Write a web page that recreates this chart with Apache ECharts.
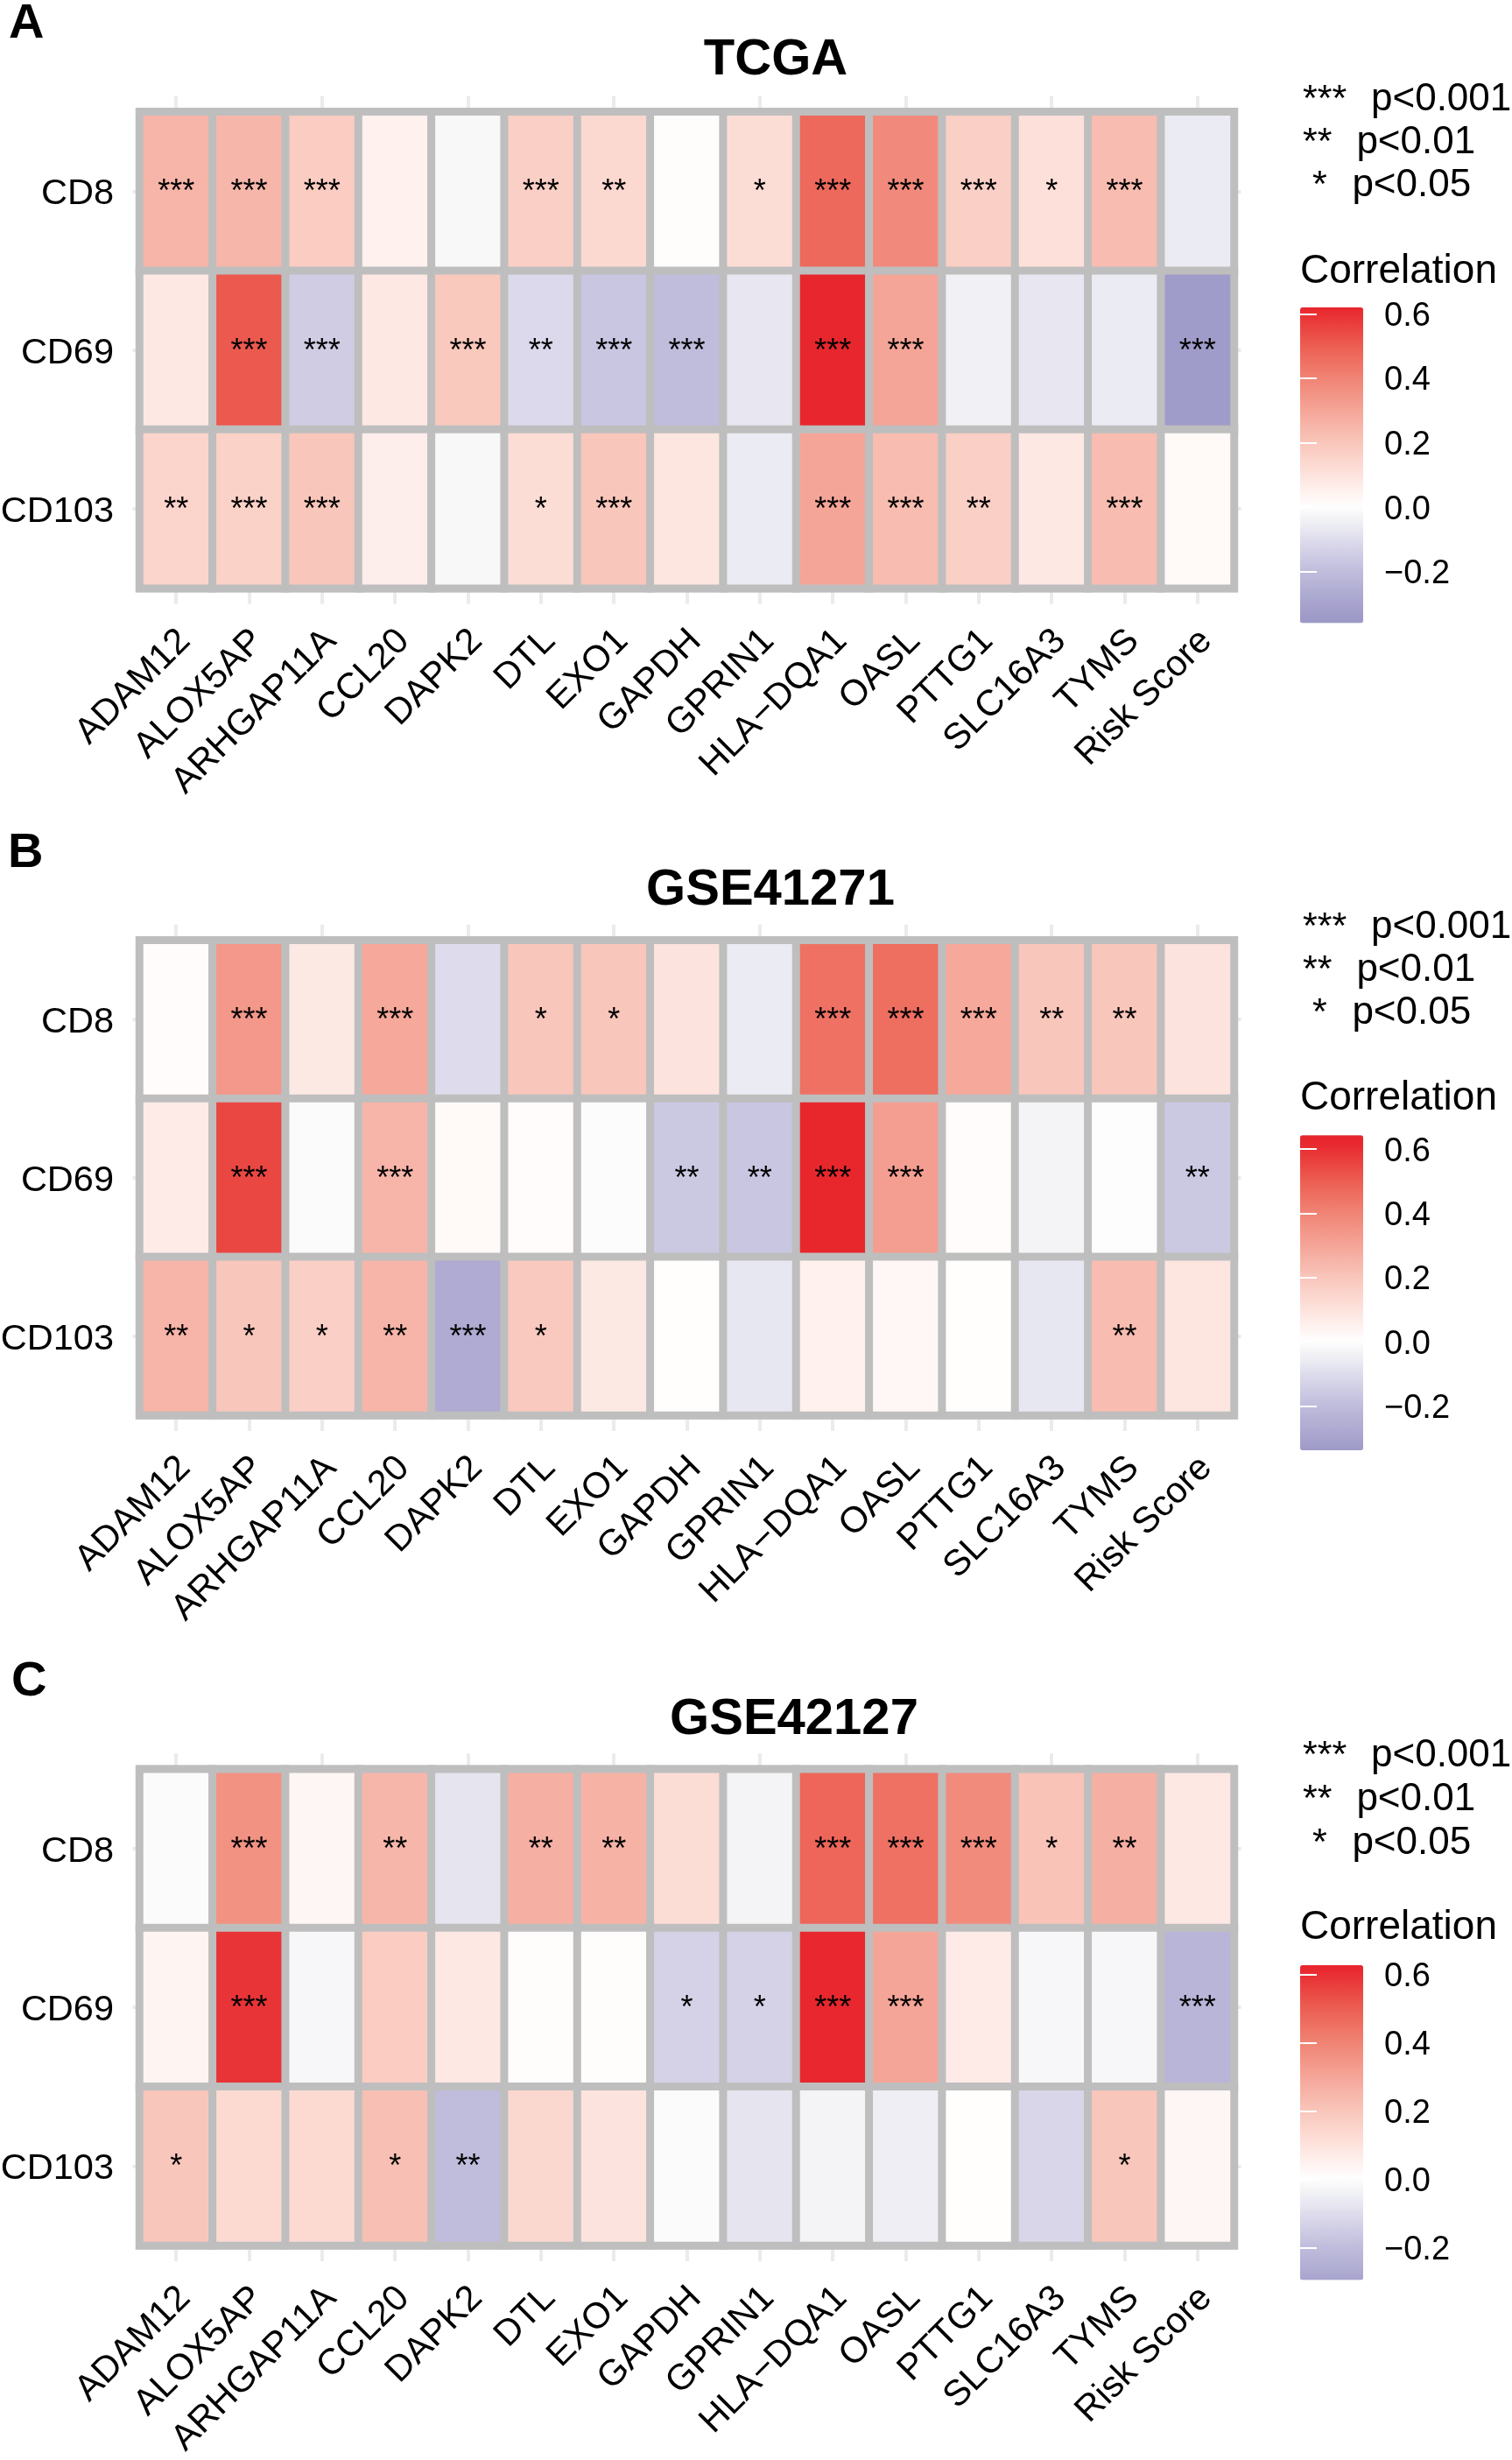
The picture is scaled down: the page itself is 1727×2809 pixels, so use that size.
<!DOCTYPE html>
<html>
<head>
<meta charset="utf-8">
<style>html,body{margin:0;padding:0;background:#fff}#c{width:1727px;height:2809px}</style>
<script src="https://cdn.jsdelivr.net/npm/echarts@6/dist/echarts.min.js"></script>
</head>
<body>
<div id="c"></div>
<script>
var categories = ['ADAM12','ALOX5AP','ARHGAP11A','CCL20','DAPK2','DTL','EXO1','GAPDH','GPRIN1','HLA\u2212DQA1','OASL','PTTG1','SLC16A3','TYMS','Risk Score'];
var rows = ['CD8','CD69','CD103'];

var tcgaValues = [
  [0.255,0.25,0.18,0.05,-0.02,0.17,0.14,0.005,0.12,0.47,0.38,0.17,0.11,0.23,-0.06],
  [0.08,0.51,-0.15,0.08,0.19,-0.11,-0.17,-0.2,-0.07,0.62,0.3,-0.04,-0.07,-0.06,-0.33],
  [0.15,0.16,0.2,0.06,-0.02,0.12,0.2,0.09,-0.06,0.3,0.23,0.17,0.08,0.23,0.02]
];
var tcgaStars = [
  [3,3,3,0,0,3,2,0,1,3,3,3,1,3,0],
  [0,3,3,0,3,2,3,3,0,3,3,0,0,0,3],
  [2,3,3,0,0,1,3,0,0,3,3,2,0,3,0]
];
var gse41271Values = [
  [0.01,0.34,0.08,0.29,-0.1,0.2,0.2,0.1,-0.06,0.45,0.46,0.29,0.2,0.2,0.1],
  [0.07,0.55,-0.01,0.25,0.02,0.01,-0.005,-0.16,-0.17,0.62,0.32,0.01,-0.03,0,-0.16],
  [0.25,0.2,0.17,0.25,-0.27,0.19,0.08,0.005,-0.07,0.05,0.03,0.005,-0.07,0.23,0.09]
];
var gse41271Stars = [
  [0,3,0,3,0,1,1,0,0,3,3,3,2,2,0],
  [0,3,0,3,0,0,0,2,2,3,3,0,0,0,2],
  [2,1,1,2,3,1,0,0,0,0,0,0,0,2,0]
];
var gse42127Values = [
  [-0.01,0.36,0.03,0.25,-0.08,0.27,0.26,0.12,-0.03,0.48,0.45,0.38,0.21,0.27,0.08],
  [0.04,0.59,-0.02,0.18,0.08,0.01,0.01,-0.13,-0.13,0.62,0.3,0.07,-0.02,-0.02,-0.23],
  [0.2,0.13,0.13,0.22,-0.2,0.14,0.1,-0.01,-0.08,-0.03,-0.05,0.005,-0.12,0.2,0.03]
];
var gse42127Stars = [
  [0,3,0,2,0,2,2,0,0,3,3,3,1,2,0],
  [0,3,0,0,0,0,0,1,1,3,3,0,0,0,3],
  [1,0,0,1,2,0,0,0,0,0,0,0,0,1,0]
];
var legendTicks = [-0.2,0,0.2,0.4,0.6];
var pLevels = [['***','p<0.001'],['**','p<0.01'],['*','p<0.05']];

var rampValues = [-0.40,-0.33,-0.2,-0.1,-0.06,-0.03,0,0.1,0.2,0.3,0.4,0.5,0.62];
var rampColors = ['#9794c5','#a09cc9','#bfbcdc','#dedcec','#ebebf3','#f4f4f6','#ffffff','#fde3dd','#f9c6bb','#f5a598','#f08475','#ec5e52','#e8262d'];

var FONT = '"Liberation Sans", Arial, sans-serif';
var BORDER = '#bebebe', TICK = '#ebebeb';

function rgb(h){return [parseInt(h.substr(1,2),16),parseInt(h.substr(3,2),16),parseInt(h.substr(5,2),16)];}
function rampAt(v){
  for(var i=0;i<rampValues.length-1;i++){
    if(v<=rampValues[i+1]){
      var t=Math.max(0,(v-rampValues[i])/(rampValues[i+1]-rampValues[i]));
      var a=rgb(rampColors[i]),b=rgb(rampColors[i+1]);
      return 'rgb('+Math.round(a[0]+(b[0]-a[0])*t)+','+Math.round(a[1]+(b[1]-a[1])*t)+','+Math.round(a[2]+(b[2]-a[2])*t)+')';
    }
  }
  return rampColors[rampColors.length-1];
}
function rampList(min,max){
  var out=[];for(var i=0;i<=80;i++){out.push(rampAt(min+(max-min)*i/80));}return out;
}

var panels = [
 {letter:'A',letterX:10,letterBase:43.6,title:'TCGA',titleX:886,titleBase:86,top:127.8,bottom:671.8,values:tcgaValues,stars:tcgaStars,
  pBase:[125.9,175,224],corrBase:323,barTop:351,barBottom:711.6,barMax:0.62,barMin:-0.36},
 {letter:'B',letterX:9,letterBase:990.5,title:'GSE41271',titleX:880,titleBase:1034,top:1073.7,bottom:1616,values:gse41271Values,stars:gse41271Stars,
  pBase:[1070.9,1120.4,1169.6],corrBase:1267,barTop:1296.3,barBottom:1656,barMax:0.643,barMin:-0.338},
 {letter:'C',letterX:13,letterBase:1937,title:'GSE42127',titleX:907,titleBase:1980.8,top:2020.3,bottom:2564,values:gse42127Values,stars:gse42127Stars,
  pBase:[2017,2067.4,2117],corrBase:2214.6,barTop:2244,barBottom:2603.4,barMax:0.627,barMin:-0.295}
];

var GL=159.5, GR=1409.5, BARL=1485, BARW=72;
var option={animation:false,backgroundColor:'#fff',textStyle:{fontFamily:FONT},
  grid:[],xAxis:[],yAxis:[],series:[],visualMap:[],title:[],graphic:{elements:[]}};

function txt(s,x,base,size,opts){
  opts=opts||{};
  option.graphic.elements.push({type:'text',x:x,y:base-0.285*size,z:10,silent:true,style:{
    text:s,fontFamily:FONT,fontSize:size,fontWeight:opts.bold?'bold':'normal',fill:'#000',
    align:opts.align||'left',verticalAlign:'middle'}});
}

panels.forEach(function(p,i){
  var gi=option.grid.length;
  option.grid.push({left:GL,top:p.top,width:GR-GL,height:p.bottom-p.top,show:true,z:1,
    borderColor:BORDER,borderWidth:9,backgroundColor:'transparent',containLabel:false,outerBoundsMode:'none'});
  var xi=option.xAxis.length, yi=option.yAxis.length;
  option.xAxis.push({type:'category',gridIndex:gi,position:'bottom',data:categories,z:0,
    axisLine:{show:false},splitLine:{show:false},
    axisTick:{show:true,alignWithLabel:true,length:18,lineStyle:{color:TICK,width:4}},
    axisLabel:{interval:0,rotate:45,margin:44,align:'right',verticalAlign:'top',lineHeight:28,hideOverlap:false,
      fontFamily:FONT,fontSize:41.5,color:'#000'}});
  option.xAxis.push({type:'category',gridIndex:gi,position:'top',data:categories,z:0,
    axisLine:{show:false},splitLine:{show:false},axisLabel:{show:false},
    axisTick:{show:true,alignWithLabel:true,length:18,lineStyle:{color:TICK,width:4}}});
  option.yAxis.push({type:'category',gridIndex:gi,position:'left',data:rows,inverse:true,z:0,
    axisLine:{show:false},splitLine:{show:false},
    axisTick:{show:true,alignWithLabel:true,length:8,lineStyle:{color:TICK,width:4}},
    axisLabel:{interval:0,margin:29.5,verticalAlign:'top',lineHeight:7,fontFamily:FONT,fontSize:41.5,color:'#000'}});
  option.yAxis.push({type:'category',gridIndex:gi,position:'right',data:rows,inverse:true,z:0,
    axisLine:{show:false},splitLine:{show:false},axisLabel:{show:false},
    axisTick:{show:true,alignWithLabel:true,length:8,lineStyle:{color:TICK,width:4}}});

  var data=[];
  p.values.forEach(function(r,ry){r.forEach(function(v,cx){data.push([cx,ry,v]);});});
  var stars=p.stars;
  var si=option.series.length;
  option.series.push({type:'heatmap',name:p.title,xAxisIndex:xi,yAxisIndex:yi,data:data,z:2,silent:true,
    itemStyle:{borderColor:BORDER,borderWidth:9},
    label:{show:true,color:'#000',fontFamily:FONT,fontSize:36,offset:[0,2],
      formatter:function(o){var n=stars[o.value[1]][o.value[0]];return n?'***'.slice(0,n):'';}},
    emphasis:{disabled:true}});

  option.visualMap.push({type:'continuous',seriesIndex:si,dimension:2,min:p.barMin,max:p.barMax,
    left:BARL,top:p.barTop,itemWidth:BARW,itemHeight:p.barBottom-p.barTop,padding:0,z:1,
    calculable:false,realtime:false,hoverLink:false,showLabel:false,text:null,orient:'vertical',
    inRange:{color:rampList(p.barMin,p.barMax)}});

  var bg=option.grid.length;
  option.grid.push({left:BARL,top:p.barTop,width:BARW,height:p.barBottom-p.barTop,show:false,containLabel:false,outerBoundsMode:'none'});
  option.xAxis.push({type:'value',gridIndex:bg,show:false,min:0,max:1});
  var ticks={show:true,inside:true,length:19,customValues:legendTicks,lineStyle:{color:'#fff',width:2}};
  option.yAxis.push({type:'value',gridIndex:bg,position:'right',min:p.barMin,max:p.barMax,z:3,
    axisLine:{show:false},splitLine:{show:false},axisTick:ticks,
    axisLabel:{customValues:legendTicks,margin:24,verticalAlign:'top',lineHeight:6,fontFamily:FONT,fontSize:38,color:'#000',showMinLabel:true,showMaxLabel:true,
      formatter:function(v){return (v<0?'\u2212':'')+Math.abs(v).toFixed(1);}}});
  option.yAxis.push({type:'value',gridIndex:bg,position:'left',min:p.barMin,max:p.barMax,z:3,
    axisLine:{show:false},splitLine:{show:false},axisTick:ticks,axisLabel:{show:false}});

  option.title.push({text:p.title,left:p.titleX,top:p.titleBase-0.8465*58+3.5,textAlign:'center',padding:0,
    textStyle:{fontFamily:FONT,fontSize:58,fontWeight:'bold',color:'#000'}});

  txt(p.letter,p.letterX,p.letterBase,56,{bold:true});
  var starX=[1488,1488,1499], pX=[1566,1549.4,1544.4];
  pLevels.forEach(function(l,k){
    txt(l[0],starX[k],p.pBase[k],43);
    txt(l[1],pX[k],p.pBase[k],44);
  });
  txt('Correlation',1485,p.corrBase,46);
});

var chart=echarts.init(document.getElementById('c'),null,{renderer:'canvas',width:1727,height:2809});
chart.setOption(option);
</script>
</body>
</html>
